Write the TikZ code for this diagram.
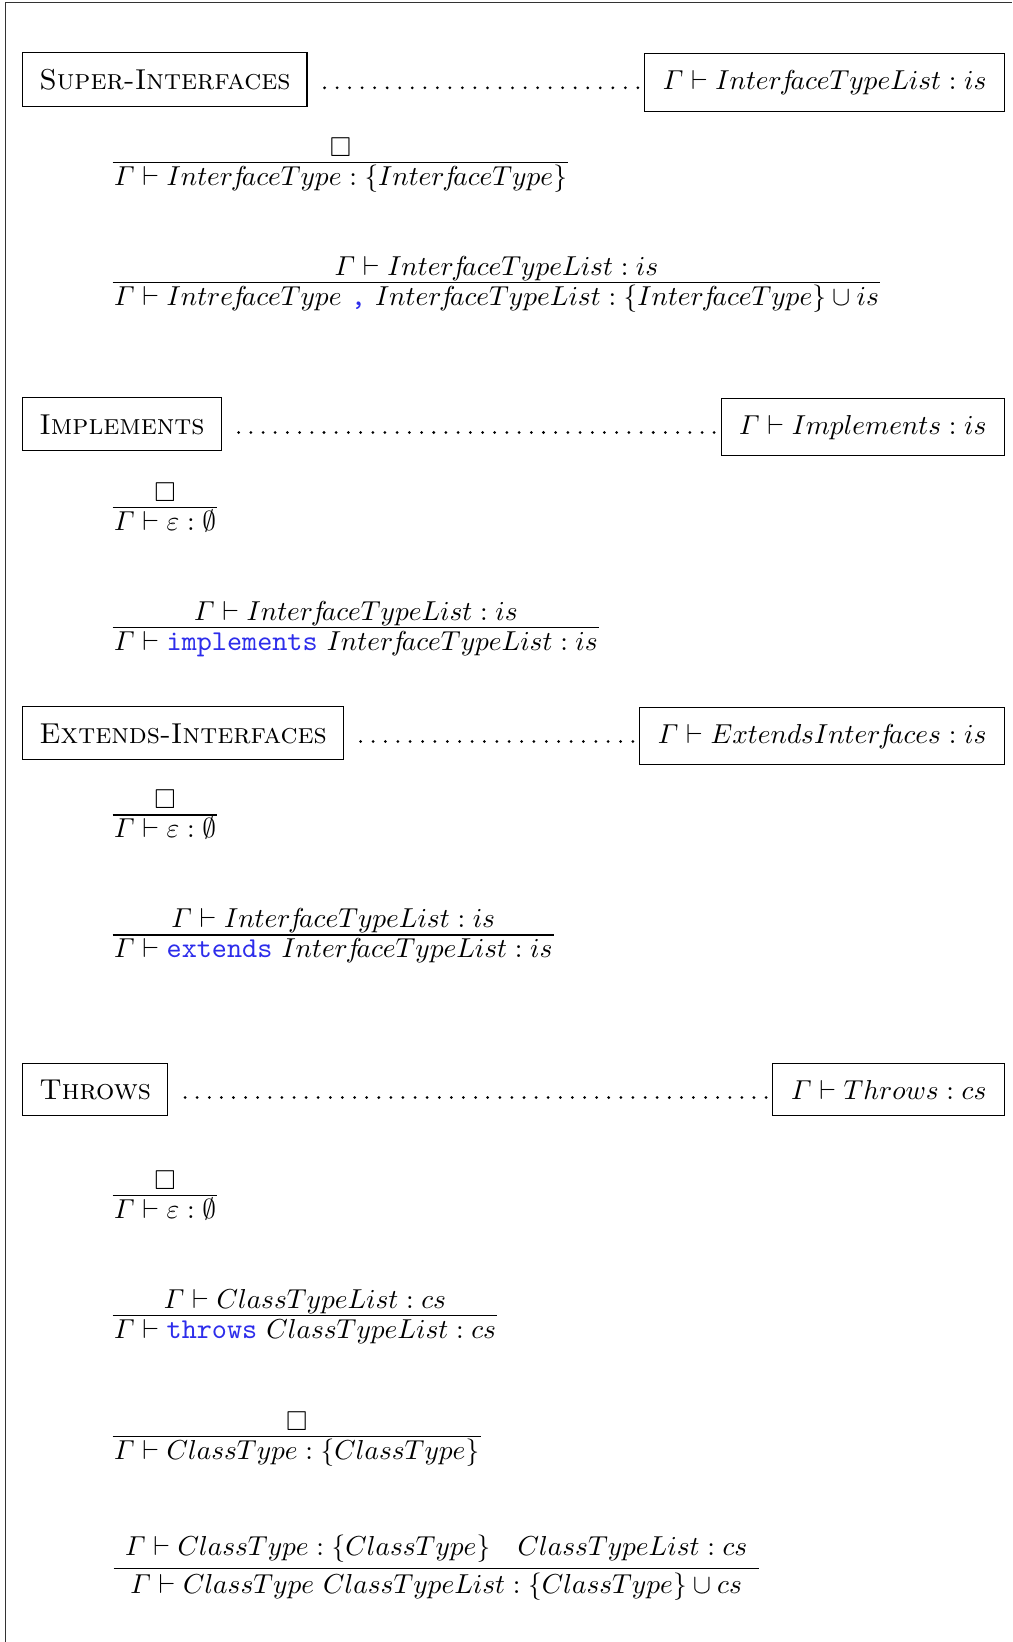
\documentclass[tikz,border=0pt]{standalone}
\usepackage{amsmath,amssymb,graphicx}
\usetikzlibrary{calc,decorations}
\definecolor{kwblue}{RGB}{45,45,235}
% keywords in blue typewriter
\newcommand{\kwd}[1]{\text{\scalebox{1.05}{\textcolor{kwblue}{\texttt{#1}}}}}
% tighter italic f inside identifiers
\newcommand{\idf}{\mkern-1.5mu f\mkern-3.5mu}
\tikzset{
  frameline/.style={line width=0.5pt, draw=black!80},
  secname/.style={draw, line width=0.4pt, inner sep=6pt, anchor=base west},
  secjudg/.style={draw, line width=0.4pt, inner xsep=6.6pt, inner ysep=6pt, anchor=base east},
  lbl/.style={inner sep=0pt},
  leader/.style={line width=1.1pt, line cap=round, dash pattern=on 0pt off 4.4pt, dash expand off},
  ruleline/.style={line width=0.4pt},
}
% judgement rule: name, rule-line y, premise gap, premise, conclusion
\newcommand{\jrule}[5]{%
  \node[lbl, anchor=base west] (#1c) at (113.5, #2+22.7) {$#5$};
  \node[lbl, anchor=base] (#1p) at ($(#1c.base)+(0,-22.7-#3)$) {$#4$};
  \draw[ruleline] ($(#1c.base west)+(-0.8,-22.7)$) -- ($(#1c.base east)+(0.8,-22.7)$);
}
% section header: name, baseline y, title, judgement
\newcommand{\jhead}[4]{%
  \node[secname] (#1l) at (22.3, #2) {\scalebox{1.05}{\scshape #3}};
  \node[secjudg] (#1r) at (1005, #2) {$#4$};
  \draw[leader] ($(#1l.base east)+(6.2pt,0.55pt)$) -- ($(#1r.base west)+(-2.3pt,0.55pt)$);
}
\begin{document}
\begin{tikzpicture}[x=0.365pt, y=-0.365pt]
\useasboundingbox (0,0) rectangle (1012,1642);
\draw[frameline] (5.5,1642) -- (5.5,2.5) -- (1012,2.5);

% Super-Interfaces
\jhead{hs}{89.3}{Super-Interfaces}{\varGamma \vdash Inter\idf aceTypeList : is}
\jrule{ra}{162.3}{6.3}{\Box}{\varGamma \vdash Inter\idf aceType : \{Inter\idf aceType\}}
\jrule{rb}{282.8}{7.7}{\varGamma \vdash Inter\idf aceTypeList : is}%
  {\varGamma \vdash Intre\idf aceType\ \kwd{,}\ Inter\idf aceTypeList : \{Inter\idf aceType\} \cup is}

% Implements
\jhead{hi}{434}{Implements}{\varGamma \vdash Implements : is}
\jrule{rc}{507.3}{6.3}{\Box}{\varGamma \vdash \varepsilon : \emptyset}
\jrule{rd}{627.8}{7.7}{\varGamma \vdash Inter\idf aceTypeList : is}%
  {\varGamma \vdash \kwd{implements}\ Inter\idf aceTypeList : is}

% Extends-Interfaces
\jhead{he}{743}{Extends-Interfaces}{\varGamma \vdash ExtendsInter\idf aces : is}
\jrule{re}{815}{6.3}{\Box}{\varGamma \vdash \varepsilon : \emptyset}
\jrule{rf}{935}{7.7}{\varGamma \vdash Inter\idf aceTypeList : is}%
  {\varGamma \vdash \kwd{extends}\ Inter\idf aceTypeList : is}

% Throws
\jhead{ht}{1099}{Throws}{\varGamma \vdash Throws : cs}
\jrule{rg}{1195.3}{6.3}{\Box}{\varGamma \vdash \varepsilon : \emptyset}
\jrule{rh}{1315.8}{7.7}{\varGamma \vdash ClassTypeList : cs}%
  {\varGamma \vdash \kwd{throws}\ ClassTypeList : cs}
\jrule{ri}{1436.3}{6.3}{\Box}{\varGamma \vdash ClassType : \{ClassType\}}

% two-premise rule, premise row wider than the conclusion
\node[lbl, anchor=base west] (rjp) at (124.5, 1555) {$\varGamma \vdash ClassType : \{ClassType\} \quad ClassTypeList : cs$};
\node[lbl, anchor=base] (rjc) at ($(rjp.base)+(0,38)$) {$\varGamma \vdash ClassType\ ClassTypeList : \{ClassType\} \cup cs$};
\draw[ruleline] ($(rjp.base west)+(-11,13.3)$) -- ($(rjp.base east)+(11,13.3)$);
\end{tikzpicture}
\end{document}
